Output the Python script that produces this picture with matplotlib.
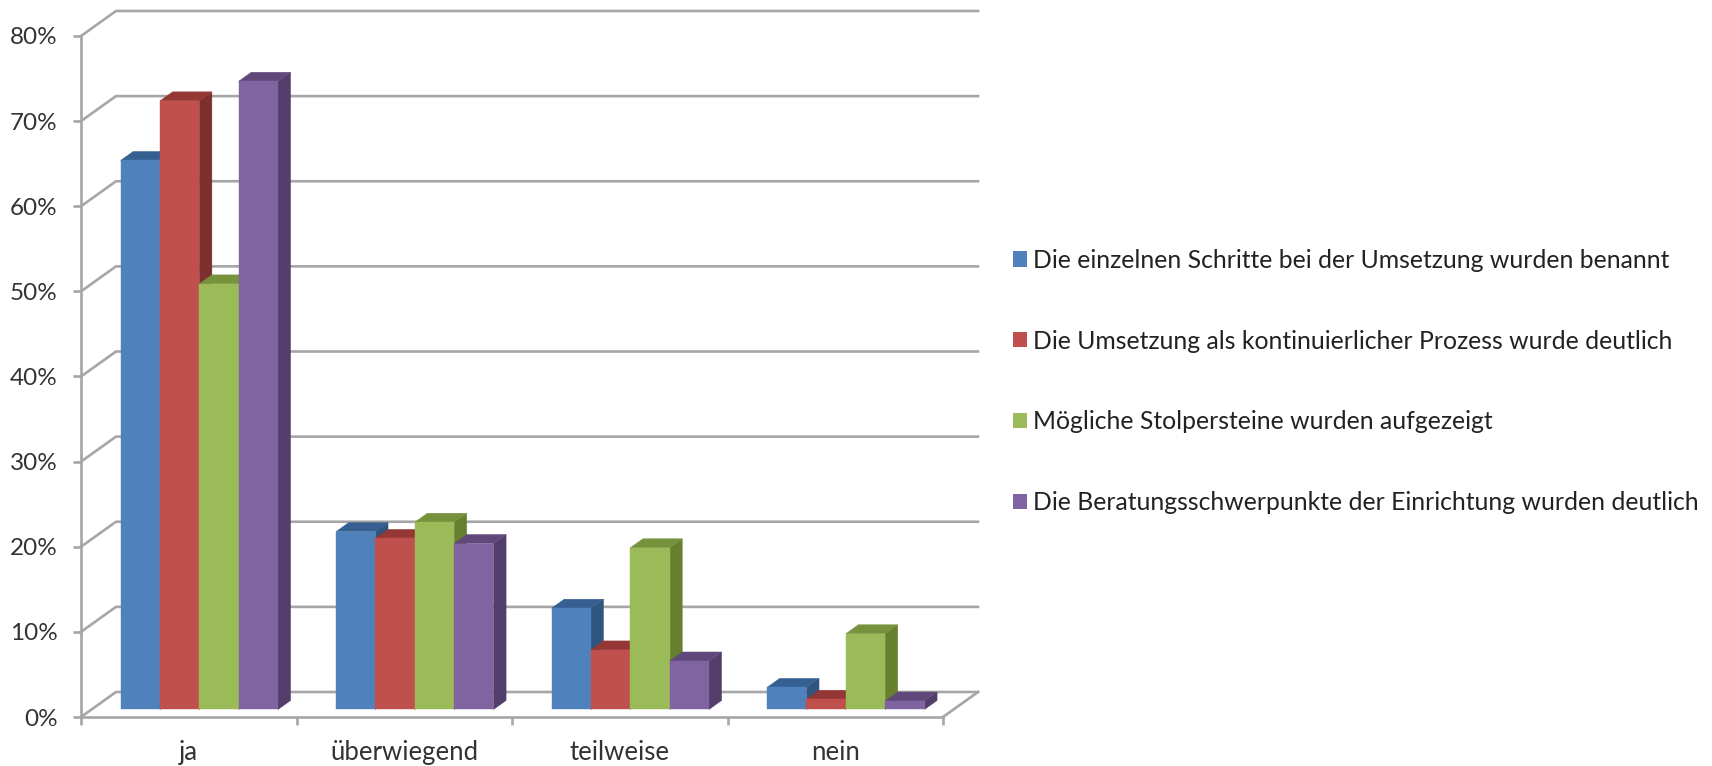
'''3d looking grouped bar chart, drawn with a shear on a normal 2d axes'''
import matplotlib
matplotlib.use('Agg')
import matplotlib.pyplot as plt
from matplotlib.patches import Patch, Polygon

categories = ['ja', 'überwiegend', 'teilweise', 'nein']
series_names = [
    'Die einzelnen Schritte bei der Umsetzung wurden benannt',
    'Die Umsetzung als kontinuierlicher Prozess wurde deutlich',
    'Mögliche Stolpersteine wurden aufgezeigt',
    'Die Beratungsschwerpunkte der Einrichtung wurden deutlich',
]
schritte = [64.5, 20.9, 11.9, 2.6]
prozess = [71.5, 20.1, 7.0, 1.2]
stolpersteine = [50.0, 22.0, 19.0, 8.9]
schwerpunkte = [73.8, 19.5, 5.7, 1.0]
all_series = [schritte, prozess, stolpersteine, schwerpunkte]

y_ticks = [0, 10, 20, 30, 40, 50, 60, 70, 80]

front_colors = ['#4F81BD', '#C0504D', '#9BBB59', '#8064A2']
top_colors = ['#376092', '#953735', '#76923C', '#60497A']
side_colors = ['#30557F', '#7D302D', '#66802F', '#533E6B']
grid_color = '#A6A6A6'
text_color = '#333333'

# how far the back wall is shifted, in data units
DEPTH_X = 35 / 215.5
DEPTH_Y = 25 / 8.51
BAR_WIDTH = 0.1826
BAR_FRONT = 0.3
BAR_BACK = 0.66


def shear(x, y, depth):
    return (x + depth * DEPTH_X, y + depth * DEPTH_Y)


def draw_bar(ax, left, height, i):
    right = left + BAR_WIDTH
    front = [shear(left, 0, BAR_FRONT), shear(right, 0, BAR_FRONT),
             shear(right, height, BAR_FRONT), shear(left, height, BAR_FRONT)]
    top = [shear(left, height, BAR_FRONT), shear(right, height, BAR_FRONT),
           shear(right, height, BAR_BACK), shear(left, height, BAR_BACK)]
    side = [shear(right, 0, BAR_FRONT), shear(right, 0, BAR_BACK),
            shear(right, height, BAR_BACK), shear(right, height, BAR_FRONT)]
    for pts, color in ((side, side_colors[i]), (top, top_colors[i]), (front, front_colors[i])):
        ax.add_patch(Polygon(pts, closed=True, facecolor=color, edgecolor=color,
                             linewidth=0.3, clip_on=False, zorder=3))


plt.rcParams['font.family'] = ['Lato', 'DejaVu Sans']

fig = plt.figure(figsize=(17.12, 7.66), dpi=100)
ax = fig.add_axes([81 / 1712, 1 - 717 / 766, (943 - 81) / 1712, (717 - 36) / 766])
ax.set_xlim(0, 4)
ax.set_ylim(0, 80)

for spine in ['top', 'right']:
    ax.spines[spine].set_visible(False)
for spine in ['left', 'bottom']:
    ax.spines[spine].set_color(grid_color)
    ax.spines[spine].set_linewidth(1.9)

ax.set_yticks(y_ticks)
ax.set_yticklabels([str(v) + '%' for v in y_ticks])
ax.set_xticks(range(5))
ax.set_xticklabels([])
ax.set_xticks([i + 0.5 for i in range(4)], labels=categories, minor=True)
ax.tick_params(axis='both', which='major', length=6, width=1.9, color=grid_color)
ax.tick_params(axis='x', which='minor', length=0, pad=16.5, labelsize=18.5, labelcolor=text_color)
ax.tick_params(axis='y', which='major', pad=11, labelsize=17.5, labelcolor=text_color)

# walls
for v in y_ticks:
    x0, y0 = shear(0, v, 0)
    x1, y1 = shear(0, v, 1)
    x2, y2 = shear(4, v, 1)
    ax.plot([x0, x1, x2], [y0, y1, y2], color=grid_color, lw=1.9, clip_on=False, zorder=1)
x0, y0 = shear(4, 0, 0)
x1, y1 = shear(4, 0, 1)
ax.plot([x0, x1], [y0, y1], color=grid_color, lw=1.9, clip_on=False, zorder=1)

# bars, left to right so the next front face covers the last side face
for c in range(len(categories)):
    for i, values in enumerate(all_series):
        left = c + 0.135 + i * BAR_WIDTH
        draw_bar(ax, left, values[c], i)

handles = [Patch(facecolor=col, edgecolor='none') for col in front_colors]
fig.legend(handles, series_names, loc='center left', bbox_to_anchor=(1013 / 1712, 1 - 381.5 / 766),
           frameon=False, fontsize=17.8, labelcolor='#222222', handlelength=0.57, handleheight=0.57,
           handletextpad=0.25, labelspacing=2.34, borderpad=0, borderaxespad=0)

fig.savefig('out.png', dpi=100)
